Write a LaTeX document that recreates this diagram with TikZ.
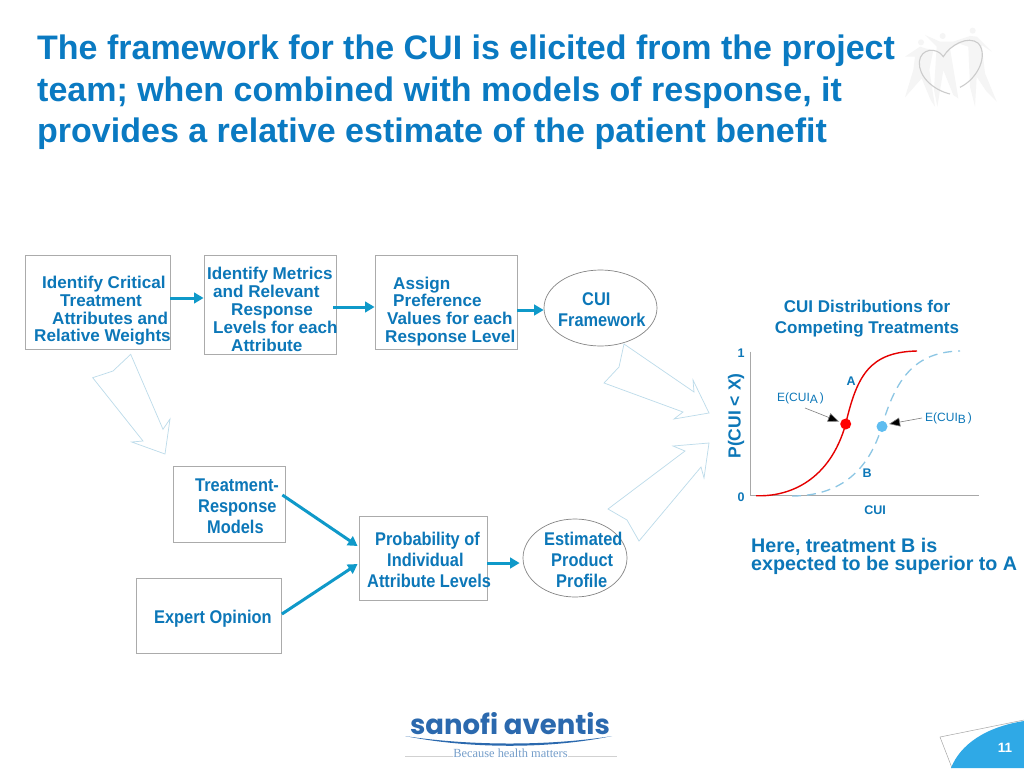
\documentclass[tikz,border=0pt]{standalone}
\usepackage{fontspec}
\setmainfont{Liberation Sans}
\newfontfamily\nb[FakeStretch=0.89]{Liberation Sans}
\newfontfamily\logofont{Poppins}
\newfontfamily\serifface{Liberation Serif}
\usetikzlibrary{arrows.meta,shapes.geometric}
\definecolor{titleblue}{HTML}{0A7AC2}
\definecolor{txtblue}{HTML}{0C77B8}
\definecolor{arrowblue}{HTML}{0F99C9}
\definecolor{hollow}{HTML}{BCDBEA}
\definecolor{boxgray}{HTML}{ABABAB}
\definecolor{ellgray}{HTML}{858585}
\definecolor{axisgray}{HTML}{A8A8A8}
\definecolor{dashblue}{HTML}{8CC6E4}
\definecolor{dotblue}{HTML}{5FBDF0}
\definecolor{logoblue}{HTML}{2B69AE}
\definecolor{cornerblue}{HTML}{2FA9E6}
\tikzset{
  x=1pt,y=-1pt,
  boxnode/.style={draw=boxgray,line width=0.8pt,rectangle,inner sep=0pt},
  ellnode/.style={draw=ellgray,line width=0.7pt,ellipse,inner sep=0pt},
  toptext/.style={text=txtblue,font=\bfseries\fontsize{17.1}{17.75}\selectfont,align=left,inner sep=0pt,anchor=north west},
  lowtext/.style={text=txtblue,font=\nb\bfseries\fontsize{18.4}{21}\selectfont,align=left,inner sep=0pt,anchor=north west},
  flow/.style={draw=arrowblue,line width=3pt,-{Triangle[width=10.5pt,length=9.5pt]}},
  hollowarrow/.style={draw=hollow,line width=0.7pt,fill=white,line join=miter},
  chartlab/.style={text=txtblue,font=\bfseries\fontsize{12.5}{14}\selectfont,inner sep=0pt},
  chartthin/.style={text=txtblue,font=\fontsize{12}{14}\selectfont,inner sep=0pt,anchor=base west},
  pointer/.style={draw=gray,line width=0.6pt,-{Triangle[width=9pt,length=11pt,fill=black]}},
}
\begin{document}
\begin{tikzpicture}
\useasboundingbox (0,0) rectangle (1024,768);
\fill[white] (0,0) rectangle (1024,768);

% heart-and-people emblem
\begin{scope}[shift={(890,10)},x=0.3333pt,y=-0.3333pt]
  \fill[black!4] (93,97) circle (9);
  \fill[black!4] (158,78) circle (9);
  \fill[black!4] (248,62) circle (9);
  \fill[black!4] (45,140) -- (90,110) -- (105,115) -- (130,120) -- (118,180) -- (135,290) -- (122,270) -- (95,205) -- (45,262) -- (70,180) -- (75,140) -- cycle;
  \fill[black!4] (105,75) -- (150,95) -- (170,95) -- (220,95) -- (180,115) -- (205,265) -- (190,255) -- (160,180) -- (142,290) -- (132,240) -- (140,110) -- cycle;
  \fill[black!4] (190,95) -- (240,78) -- (260,80) -- (305,125) -- (275,105) -- (285,190) -- (320,275) -- (290,245) -- (260,200) -- (255,290) -- (240,230) -- (235,110) -- cycle;
  \draw[black!20,line width=1.1pt] (180,252) .. controls (130,240) and (85,200) .. (88,155) .. controls (92,115) and (140,110) .. (160,140) .. controls (180,105) and (235,75) .. (265,100) .. controls (295,135) and (265,205) .. (210,232);
\end{scope}

% title
\node[text=titleblue,font=\bfseries\fontsize{34}{41.5}\selectfont,align=left,inner sep=0pt,anchor=north west] (title) at (37,35)
  {The framework for the CUI is elicited from the project\\team; when combined with models of response, it\\provides a relative estimate of the patient benefit};

% boxes
\node[boxnode,minimum width=145pt,minimum height=94pt] (critical) at (97.5,302) {};
\node[boxnode,minimum width=132pt,minimum height=99pt] (metrics) at (270,304.5) {};
\node[boxnode,minimum width=142pt,minimum height=94pt] (assign) at (446,302) {};
\node[ellnode,minimum width=113pt,minimum height=76pt] (framework) at (600.5,308) {};
\node[boxnode,minimum width=112pt,minimum height=76pt] (models) at (229,504) {};
\node[boxnode,minimum width=145.5pt,minimum height=75pt] (expert) at (208.75,615.5) {};
\node[boxnode,minimum width=128pt,minimum height=84pt] (prob) at (423,558) {};
\node[ellnode,minimum width=104pt,minimum height=78pt] (profile) at (575,558) {};

% box texts
\node[toptext] (criticaltext) at (34,276) {\hspace*{8pt}Identify Critical\\\hspace*{26pt}Treatment\\\hspace*{18pt}Attributes and\\Relative Weights};
\node[toptext,font=\bfseries\fontsize{17.1}{18}\selectfont] (metricstext) at (207,267) {Identify Metrics\\\hspace*{6pt}and Relevant\\\hspace*{24pt}Response\\\hspace*{6pt}Levels for each\\\hspace*{24pt}Attribute};
\node[toptext] (assigntext) at (385,276.5) {\hspace*{8pt}Assign\\\hspace*{8pt}Preference\\\hspace*{2pt}Values for each\\Response Level};
\node[lowtext] (frameworktext) at (558,292) {\hspace*{24pt}CUI\\Framework};
\node[lowtext] (modelstext) at (195,478.5) {Treatment-\\\hspace*{3pt}Response\\\hspace*{12pt}Models};
\node[lowtext] (experttext) at (154,610) {Expert Opinion};
\node[lowtext] (probtext) at (367,531.5) {\hspace*{8pt}Probability of\\\hspace*{20pt}Individual\\Attribute Levels};
\node[lowtext] (profiletext) at (544,531.5) {Estimated\\\hspace*{7pt}Product\\\hspace*{12pt}Profile};

% flow arrows
\draw[flow] ([yshift=4pt]critical.east) -- ([yshift=6.5pt]metrics.west);
\draw[flow] ([xshift=-3pt,yshift=-2.5pt]metrics.east) -- ([yshift=-5pt]assign.west);
\draw[flow] ([yshift=-8pt]assign.east) -- ([yshift=-2pt]framework.west);
\draw[flow] ([xshift=-3pt,yshift=9pt]models.east) -- ([xshift=-1pt,yshift=12pt]prob.west);
\draw[flow] ([yshift=1.5pt]expert.east) -- ([xshift=-1pt,yshift=-6pt]prob.west);
\draw[flow,shorten >=3pt] ([yshift=-5pt]prob.east) -- ([yshift=-5pt]profile.west);

% hollow block arrows
\draw[hollowarrow] (130.7,354.3) -- (113,371) -- (92.7,377.7) -- (143,441) -- (131.7,442) -- (165,454) -- (170,419) -- (163,429.3) -- cycle;
\draw[hollowarrow] (624,344) -- (619,367) -- (604,383) -- (683,412) -- (674,419) -- (709,413) -- (693,380) -- (694,392) -- cycle;
\draw[hollowarrow] (608,509) -- (627,520) -- (639,541) -- (701,467) -- (704,478) -- (709,443) -- (673,446) -- (685,451) -- cycle;

% chart
\node[chartlab,font=\bfseries\fontsize{17}{21}\selectfont,text=txtblue,align=center] (charttitle) at (867,319) {CUI Distributions for\\Competing Treatments};
\coordinate (origin) at (750.7,495.7);
\coordinate (ytop) at (750.7,351.7);
\coordinate (xend) at (979,495.7);
\draw[axisgray,line width=0.9pt] (ytop) -- (origin) -- (xend);
\draw[dashblue,line width=1.3pt,dash pattern=on 9pt off 6pt] (792,496) .. controls (830,496) and (866,480) .. (882,426) .. controls (896,378) and (915,352) .. (960,351);
\draw[red!90!black,line width=1.4pt] (756,495.7) .. controls (790,497) and (830,480) .. (845.7,424) .. controls (857,375) and (870,352) .. (917,351);
\fill[dotblue] (882,426.5) circle (5.5);
\fill[red] (845.7,424) circle (5.5);
\coordinate (dota) at (839,421.5);
\coordinate (dotb) at (889,424);
\coordinate (ea) at (805,408);
\coordinate (eb) at (922,418);
\draw[pointer] (ea) -- (dota);
\draw[pointer] (eb) -- (dotb);
\node[chartlab] (ylab1) at (741,353.5) {1};
\node[chartlab] (ylab0) at (741,497.5) {0};
\node[chartlab] (xlab) at (875,510) {CUI};
\node[chartlab,font=\bfseries\fontsize{17.5}{18}\selectfont,rotate=90] (ylab) at (736,416) {P(CUI < X)};
\node[chartlab] (laba) at (851,381) {A};
\node[chartlab] (labb) at (867,473) {B};
\node[chartthin] (ecuia) at (777,401) {E(CUI\raisebox{-2.5pt}{A}\,)};
\node[chartthin] (ecuib) at (925,421) {E(CUI\raisebox{-2.5pt}{B}\,)};
\node[text=txtblue,font=\bfseries\fontsize{19.7}{18}\selectfont,align=left,inner sep=0pt,anchor=north west] (note) at (751,538) {Here, treatment B is\\expected to be superior to A};

% footer logo
\node[text=logoblue,font=\logofont\bfseries\fontsize{27.5}{28}\selectfont,inner sep=0pt] (logo) at (510,724) {sanofi aventis};
\fill[logoblue] (405,736) .. controls (470,746) and (550,746) .. (612,736) .. controls (550,749) and (470,749) .. (405,736) -- cycle;
\draw[black!18,line width=0.5pt] (405,756.5) -- (617,756.5);
\node[fill=white,inner sep=0pt,text=logoblue!65,font=\serifface\fontsize{12.4}{13}\selectfont] (slogan) at (510.5,753.5) {Because health matters};

% page corner
\draw[black!35,line width=0.5pt] (1024,720) -- (940,737) -- (952,768);
\fill[cornerblue] (1024,721) .. controls (985,727) and (960,745) .. (951,768) -- (1024,768) -- cycle;
\node[text=white,font=\bfseries\fontsize{13.5}{14}\selectfont,inner sep=0pt] (pagenum) at (1005,748) {11};
\end{tikzpicture}
\end{document}
